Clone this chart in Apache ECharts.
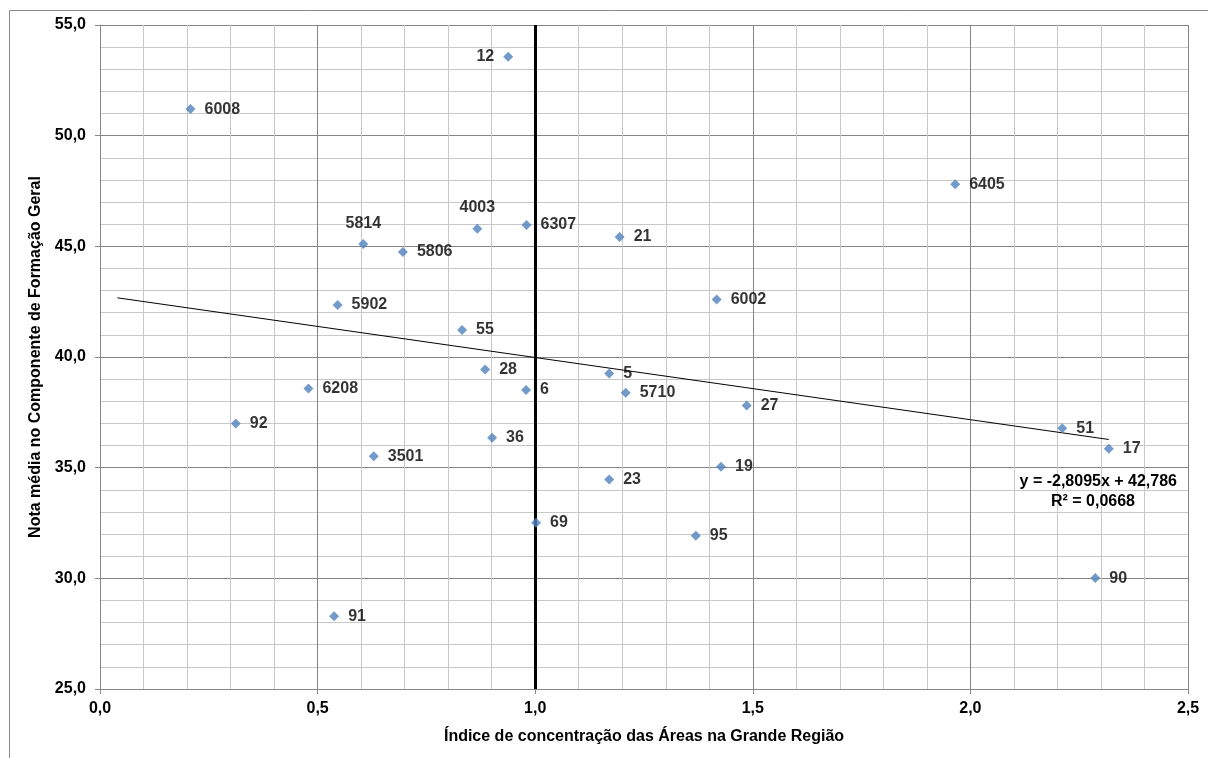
<!DOCTYPE html>
<html><head><meta charset="utf-8">
<script src="https://cdn.jsdelivr.net/npm/echarts@6/dist/echarts.min.js"></script>
<style>html,body{margin:0;padding:0;background:#fff}#c{width:1208px;height:758px}</style>
</head><body><div id="c"></div>
<script>
const names = ['6008','5814','12','4003','6307','21','6405','5806','5902','6208','92','3501','55','28','6','36','5','5710','6002','27','19','23','51','17','69','95','91','90'];
const xVals = [0.208,0.605,0.938,0.867,0.980,1.194,1.965,0.696,0.546,0.479,0.312,0.629,0.832,0.885,0.979,0.901,1.170,1.208,1.417,1.486,1.427,1.170,2.211,2.318,1.002,1.369,0.538,2.287];
const yVals = [51.20,45.10,53.57,45.80,45.96,45.42,47.80,44.74,42.35,38.58,37.00,35.52,41.22,39.44,38.51,36.35,39.26,38.39,42.60,37.81,35.04,34.47,36.78,35.85,32.51,31.92,28.29,30.01];
const labelPos = {'12':'left','5814':'top','4003':'top'};
const trendSlope = -2.8095, trendIntercept = 42.786;
const trendRange = [0.04, 2.318];
const eqText = 'y = -2,8095x + 42,786';
const r2Text = 'R² = 0,0668';
const xTitle = 'Índice de concentração das Áreas na Grande Região';
const yTitle = 'Nota média no Componente de Formação Geral';

const FONT = '"Liberation Sans", Arial, sans-serif';
const fmt = v => v.toFixed(1).replace('.', ',');

const pts = names.map((n,i)=>{
  const p = labelPos[n] || 'right';
  return {name:n, value:[xVals[i], yVals[i]], label:{position:p, distance: p==='top'?8:9}};
});

const chart = echarts.init(document.getElementById('c'));
chart.setOption({
  animation:false,
  grid:{left:100, top:25, right:20, bottom:69},
  xAxis:{type:'value', min:0, max:2.5, interval:0.5,
    axisLine:{show:true, lineStyle:{color:'#888'}},
    axisTick:{show:true, length:5, lineStyle:{color:'#888'}},
    axisLabel:{formatter:fmt, color:'#000', fontWeight:'bold', fontSize:16, fontFamily:FONT, margin:12},
    splitLine:{show:true, lineStyle:{color:'#858585', width:1}},
    minorTick:{show:false, splitNumber:5},
    minorSplitLine:{show:true, lineStyle:{color:'#c8c8c8', width:1}},
    name:xTitle, nameLocation:'middle', nameGap:40,
    nameTextStyle:{color:'#000', fontWeight:'bold', fontSize:16, fontFamily:FONT}},
  yAxis:{type:'value', min:25, max:55, interval:5,
    axisLine:{show:true, lineStyle:{color:'#888'}},
    axisTick:{show:true, length:5, lineStyle:{color:'#888'}},
    axisLabel:{formatter:fmt, color:'#000', fontWeight:'bold', fontSize:16, fontFamily:FONT, margin:14},
    splitLine:{show:true, lineStyle:{color:'#858585', width:1}},
    minorTick:{show:false, splitNumber:5},
    minorSplitLine:{show:true, lineStyle:{color:'#c8c8c8', width:1}},
    name:yTitle, nameLocation:'middle', nameGap:52,
    nameTextStyle:{color:'#000', fontWeight:'bold', fontSize:16, fontFamily:FONT}},
  series:[
    {type:'line', data:trendRange.map(x=>[x, trendSlope*x+trendIntercept]),
     symbol:'none', lineStyle:{color:'#000', width:1}, silent:true, z:3,
     markLine:{silent:true, symbol:'none', label:{show:false},
       lineStyle:{color:'#000', width:3, type:'solid'}, data:[{xAxis:1}]}},
    {type:'scatter', data:pts, symbol:'diamond', symbolSize:10,
     itemStyle:{color:'#4F81BD'}, z:5,
     label:{show:true, formatter:p=>p.name, color:'#000', fontWeight:'bold', fontSize:16, fontFamily:FONT}}
  ],
  graphic:[
    {type:'rect', left:7, top:8, shape:{width:1230, height:800}, style:{fill:'none', stroke:'#8a8a8a', lineWidth:1}, silent:true, z:-1},
    {type:'text', right:31, top:474, z:10, style:{text:eqText, fill:'#000', font:'bold 16px '+FONT, textAlign:'right'}},
    {type:'text', right:73, top:494, z:10, style:{text:r2Text, fill:'#000', font:'bold 16px '+FONT, textAlign:'right'}}
  ]
});
</script></body></html>
